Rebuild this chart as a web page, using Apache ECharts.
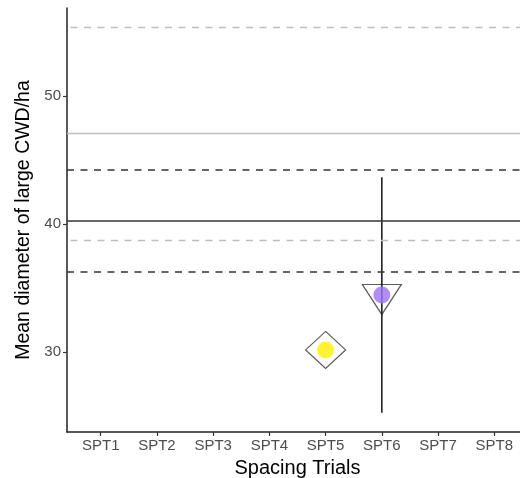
<!DOCTYPE html>
<html>
<head>
<meta charset="utf-8">
<script src="https://cdn.jsdelivr.net/npm/echarts@6/dist/echarts.min.js"></script>
<style>
  html, body { margin: 0; padding: 0; background: #ffffff; }
  #chart { width: 520px; height: 478px; }
</style>
</head>
<body>
<div id="chart"></div>
<script>
// Spacing trial categories along the x axis
const categories = ['SPT1', 'SPT2', 'SPT3', 'SPT4', 'SPT5', 'SPT6', 'SPT7', 'SPT8'];

// Mean diameter per trial (only trials with data)
const trialNames = ['SPT5', 'SPT6'];
const trialMeans = [30.16, 34.45];
const trialLower = [null, 25.26];
const trialUpper = [null, 43.65];
const trialColors = ['#FFF000', '#9B72F2'];
const trialShapes = ['diamond', 'triangleDown'];

// Reference levels drawn as horizontal lines
const refValues = [55.37, 47.06, 44.27, 40.26, 38.75, 36.27];
const refKinds  = ['grayDashed', 'graySolid', 'blackDashed', 'blackSolid', 'grayDashed', 'blackDashed'];

// Y axis tick labels
const yTicks = [30, 40, 50];

const refStyles = {
  grayDashed:  { color: '#BEBEBE', type: [7, 6.5], dashOffset: 10, width: 1.4 },
  graySolid:   { color: '#BEBEBE', type: 'solid', width: 1.3 },
  blackDashed: { color: '#333333', type: [7, 6.5], width: 1.5 },
  blackSolid:  { color: '#333333', type: 'solid', width: 1.5 }
};

const idx = name => categories.indexOf(name);

const chart = echarts.init(document.getElementById('chart'), null, { renderer: 'canvas' });

const tickColor = '#4D4D4D';
const fontFamily = '"Liberation Sans", Arial, sans-serif';

const diamondData = [], triangleData = [], circleData = [], barData = [];
trialNames.forEach((n, i) => {
  const p = [idx(n), trialMeans[i]];
  if (trialShapes[i] === 'diamond') diamondData.push(p);
  else triangleData.push(p);
  circleData.push({ value: p, itemStyle: { color: trialColors[i] } });
  if (trialLower[i] !== null) barData.push([idx(n), trialLower[i], trialUpper[i]]);
});

const option = {
  animation: false,
  backgroundColor: '#ffffff',
  grid: { left: 67, top: 8, width: 461, height: 424, containLabel: false, outerBoundsMode: 'none' },
  xAxis: {
    type: 'value',
    min: -0.6,
    max: 7.6,
    name: 'Spacing Trials',
    nameLocation: 'middle',
    nameGap: 26,
    nameTextStyle: { color: '#000000', fontSize: 20, fontFamily: fontFamily },
    splitLine: { show: false },
    axisLine: { show: true, onZero: false, lineStyle: { color: '#222222', width: 1.5 } },
    axisTick: { show: true, length: 4, customValues: categories.map((c, i) => i), lineStyle: { color: '#333333', width: 1.2 } },
    axisLabel: {
      customValues: categories.map((c, i) => i),
      formatter: v => categories[Math.round(v)] || '',
      color: tickColor, fontSize: 15, fontFamily: fontFamily, margin: 6
    }
  },
  yAxis: {
    type: 'value',
    min: 23.75,
    max: 56.875,
    name: 'Mean diameter of large CWD/ha',
    nameLocation: 'middle',
    nameGap: 33,
    nameRotate: 90,
    nameTextStyle: { color: '#000000', fontSize: 19.5, fontFamily: fontFamily },
    splitLine: { show: false },
    axisLine: { show: true, onZero: false, lineStyle: { color: '#222222', width: 1.5 } },
    axisTick: { show: true, length: 4, customValues: yTicks, lineStyle: { color: '#333333', width: 1.2 } },
    axisLabel: { customValues: yTicks, color: tickColor, fontSize: 15, fontFamily: fontFamily, margin: 6 }
  },
  series: [
    {
      // reference lines
      type: 'line',
      data: [],
      silent: true,
      markLine: {
        silent: true,
        symbol: 'none',
        label: { show: false },
        animation: false,
        data: refValues.map((v, i) => ({ yAxis: v, lineStyle: refStyles[refKinds[i]] }))
      }
    },
    {
      // hollow diamond outline
      type: 'scatter',
      data: diamondData,
      symbol: 'diamond',
      symbolSize: [40, 37],
      itemStyle: { color: 'rgba(255,255,255,0)', borderColor: '#333333', borderWidth: 1.2 },
      z: 2
    },
    {
      // hollow downward triangle outline
      type: 'scatter',
      data: triangleData,
      symbol: 'path://M0,0 L40,0 L20,30 Z',
      symbolSize: [39, 30],
      symbolOffset: [0, 4.5],
      itemStyle: { color: 'rgba(255,255,255,0)', borderColor: '#333333', borderWidth: 1.2 },
      z: 2
    },
    {
      // vertical error bars
      type: 'custom',
      data: barData,
      encode: { x: 0, y: [1, 2] },
      renderItem: (params, api) => {
        const x = api.value(0);
        const lo = api.coord([x, api.value(1)]);
        const hi = api.coord([x, api.value(2)]);
        return {
          type: 'line',
          shape: { x1: lo[0], y1: lo[1], x2: hi[0], y2: hi[1] },
          style: { stroke: '#222222', lineWidth: 1.6 }
        };
      },
      z: 3
    },
    {
      // filled mean points
      type: 'scatter',
      data: circleData,
      symbol: 'circle',
      symbolSize: 17,
      itemStyle: { borderWidth: 0 },
      z: 4
    }
  ]
};

chart.setOption(option);
</script>
</body>
</html>
